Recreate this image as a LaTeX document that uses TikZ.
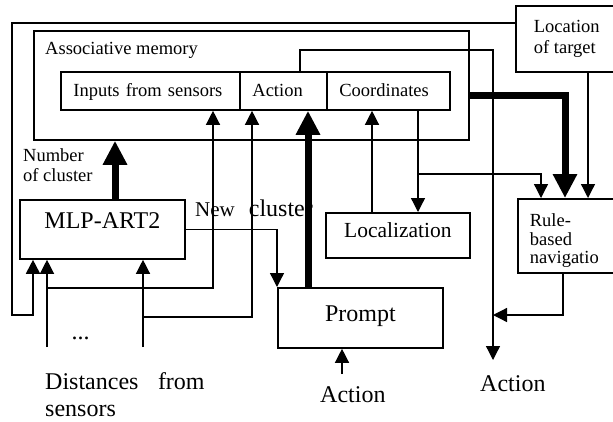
\documentclass[tikz,border=0pt]{standalone}
\usepackage{fontspec}
\setmainfont{Liberation Serif}
\usetikzlibrary{arrows.meta}
\newcommand\fsmall{\fontsize{18.5}{21}\selectfont}
\newcommand\flarge{\fontsize{24}{28}\selectfont}
\begin{document}
\begin{tikzpicture}[x=1pt,y=-1pt,
  line join=miter,
  frame/.style={draw, line width=1.8pt, inner sep=0pt},
  rowbox/.style={frame, inner xsep=12.5pt, inner ysep=0pt, align=left, font=\fsmall,
     text height=12.4pt, text depth=2pt, minimum height=38pt, anchor=north west},
  conn/.style={line width=1.3pt},
  arr/.style={conn, -{Triangle[width=14pt,length=14pt]}},
  bigarr/.style={line width=7pt, -{Triangle[width=23pt,length=24pt]}},
  txt/.style={inner sep=0pt}
]
\useasboundingbox (0,0) rectangle (613,421);

% boxes
\node[frame, minimum width=435pt, minimum height=109pt, anchor=north west] (assoc) at (33,30) {};
\node[txt, anchor=base west, font=\fsmall] (amlabel) at (45,54) {Associative memory};
\node[rowbox, text width=154pt] (inputs) at (60,71) {Inputs from sensors};
\node[rowbox, text width=62pt] (action) at (239,71) {Action};
\node[rowbox, text width=98pt] (coords) at (326,71) {Coordinates};

\node[frame, anchor=north west] (loc) at (515,5)
  {\parbox[c][66pt][t]{98pt}{\fontsize{18.5}{21}\selectfont\leftskip=18pt\vspace*{14.3pt}Location\\of target}};
\node[frame, anchor=north west] (rule) at (517,198)
  {\parbox[c][74pt][t]{96pt}{\fontsize{18.5}{18.5}\selectfont\leftskip=12pt\vspace*{15pt}Rule-\\based\\navigatio}};

\node[frame, font=\flarge, minimum width=165pt, minimum height=59pt, text height=15.9pt, text depth=17pt, anchor=north west] (mlp) at (19,199) {MLP-ART2};
\node[frame, font=\flarge, minimum width=165pt, minimum height=60pt, text height=15.9pt, text depth=8.5pt, anchor=north west] (prompt) at (277,287) {Prompt};
\node[frame, font=\fontsize{21.5}{21.5}\selectfont, minimum width=144pt, minimum height=45pt, text height=14.2pt, text depth=9.8pt, anchor=north west] (local) at (325,212) {Localization};

% free texts
\node[txt, align=left, anchor=north west, font=\fontsize{18.5}{20}\selectfont] (numcl) at (23,148.7) {Number\\of cluster};
\node[txt, anchor=base west] (newcl) at (195,216.7) {{\fontsize{21}{21}\selectfont New}\hspace{14pt}{\flarge cluster}};
\node[txt, anchor=base, font=\flarge] (dots) at (80.5,339) {...};
\node[txt, align=left, anchor=north west, font=\fontsize{24}{27.5}\selectfont] (dist) at (45,372) {Distances\hspace{19.5pt}from\\sensors};
\node[txt, anchor=base west, font=\flarge] (act1) at (320,402) {Action};
\node[txt, anchor=base west, font=\flarge] (act2) at (480,391) {Action};

% helper coordinates
\coordinate (s1) at (47,347);
\coordinate (s2) at (143,347);
\coordinate (b1) at (47,288);
\coordinate (b2) at (143,317);
\coordinate (a1) at (342,374);
\coordinate (a2) at (493,360);
\coordinate (j1) at (493,315);
\coordinate (b3) at (418,174);
\coordinate (fr) at (12,315);
\coordinate (mtop) at ([xshift=96pt]mlp.north west);
\coordinate (ptop) at ([xshift=31pt]prompt.north west);
\coordinate (cbot) at ([xshift=92pt]coords.south west);
\coordinate (ltop) at ([xshift=47pt]local.north west);
\coordinate (lbot) at ([xshift=73pt]loc.south west);

% connectors
\draw[arr, line width=1.8pt] ([yshift=-18pt]loc.north west) -| (fr) -| ([xshift=14pt]mlp.south west);
\draw[bigarr] (mtop) -- (mtop |- assoc.south);
\draw[arr] (s1) -- (s1 |- mlp.south);
\draw[arr] (b1) -| ([xshift=153pt]inputs.south west);
\draw[arr] (s2) -- (s2 |- mlp.south);
\draw[arr] (b2) -| ([xshift=13pt]action.south west);
\draw[arr] (mlp.east) -| (prompt.north west);
\draw[bigarr] (ptop) -- (ptop |- action.south);
\draw[arr] (a1) -- (a1 |- prompt.south);
\draw[arr] ([xshift=61pt]action.north west) -- ++(0,-21) -| (a2);
\draw[arr] ([xshift=46pt]rule.south west) |- (j1);
\draw[arr] (cbot) -- (cbot |- local.north);
\draw[arr] (b3) -| ([xshift=24pt]rule.north west);
\draw[arr] (ltop) -- (ltop |- coords.south);
\draw[bigarr] ([yshift=-10.5pt]assoc.east) -| ([xshift=48pt]rule.north west);
\draw[arr] (lbot) -- (lbot |- rule.north);
\end{tikzpicture}
\end{document}
